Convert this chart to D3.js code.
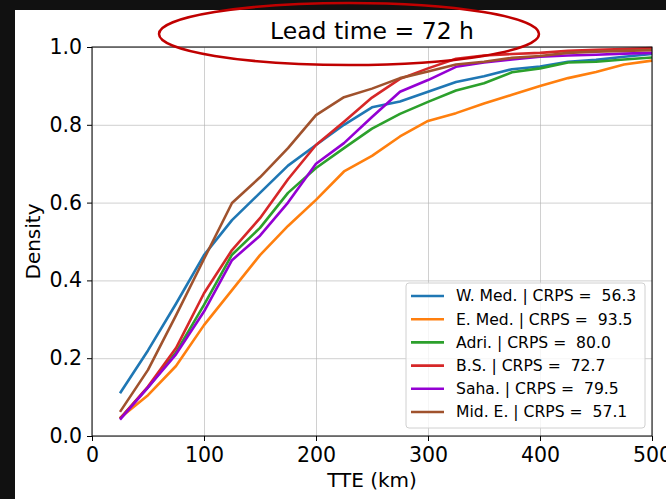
<!DOCTYPE html>
<html>
<head>
<meta charset="utf-8">
<script src="https://cdn.jsdelivr.net/npm/d3@7"></script>
<style>
  html, body { margin: 0; padding: 0; background: #111111; }
  svg { display: block; font-family: "DejaVu Sans", sans-serif; }
  .grid line { stroke: #b0b0b0; stroke-opacity: 0.6; stroke-width: 1; }
  .grid path { display: none; }
  .axis path, .axis line { stroke: #000; stroke-width: 1; }
  .axis text { font-family: "DejaVu Sans", sans-serif; font-size: 20.5px; fill: #000; }
</style>
</head>
<body>
<svg id="chart"></svg>
<script>
var w = 666, h = 499;

var margin = { top: 47, right: 14, bottom: 63, left: 92 },
    width = w - margin.left - margin.right,
    height = h - margin.top - margin.bottom;

// TTE bins (km)
var tte = [25, 50, 75, 100, 125, 150, 175, 200, 225, 250, 275, 300, 325, 350, 375, 400, 425, 450, 475, 500];

var regions = ["W. Med.", "E. Med.", "Adri.", "B.S.", "Saha.", "Mid. E."];
var crps = ["56.3", "93.5", "80.0", "72.7", "79.5", "57.1"];
var colors = ["#1f77b4", "#ff7f0e", "#2ca02c", "#d62728", "#9400d3", "#a0522d"];

var wMed  = [0.11, 0.22, 0.34, 0.465, 0.555, 0.625, 0.695, 0.748, 0.80, 0.845, 0.86, 0.885, 0.91, 0.925, 0.943, 0.95, 0.962, 0.967, 0.975, 0.982];
var eMed  = [0.046, 0.105, 0.18, 0.285, 0.375, 0.465, 0.54, 0.607, 0.68, 0.72, 0.77, 0.81, 0.83, 0.855, 0.877, 0.90, 0.92, 0.936, 0.955, 0.965];
var adri  = [0.045, 0.125, 0.215, 0.337, 0.466, 0.535, 0.625, 0.689, 0.74, 0.79, 0.828, 0.859, 0.888, 0.907, 0.935, 0.945, 0.96, 0.962, 0.968, 0.973];
var bs    = [0.045, 0.127, 0.226, 0.367, 0.478, 0.56, 0.66, 0.748, 0.808, 0.87, 0.918, 0.945, 0.97, 0.978, 0.982, 0.985, 0.99, 0.993, 0.995, 0.997];
var saha  = [0.042, 0.125, 0.21, 0.32, 0.452, 0.515, 0.60, 0.70, 0.753, 0.82, 0.885, 0.915, 0.949, 0.96, 0.968, 0.975, 0.978, 0.98, 0.983, 0.985];
var midE  = [0.062, 0.17, 0.31, 0.455, 0.599, 0.665, 0.74, 0.825, 0.871, 0.893, 0.92, 0.937, 0.955, 0.962, 0.972, 0.977, 0.985, 0.988, 0.99, 0.992];

var series = [wMed, eMed, adri, bs, saha, midE];

var x = d3.scaleLinear().domain([0, 500]).range([0, width]);
var y = d3.scaleLinear().domain([0, 1]).range([height, 0]);

var svg = d3.select("#chart").attr("width", w).attr("height", h);

// white figure area (dark border top/left like the screenshot)
svg.append("rect")
    .attr("x", 15).attr("y", 10)
    .attr("width", w - 15).attr("height", h - 10)
    .attr("fill", "#fff");

var g = svg.append("g")
    .attr("transform", "translate(" + margin.left + "," + margin.top + ")");

// grid
g.append("g")
    .attr("class", "grid")
    .attr("transform", "translate(0," + height + ")")
    .call(d3.axisBottom(x).tickValues(d3.range(0, 501, 100)).tickSize(-height).tickFormat(""));
g.append("g")
    .attr("class", "grid")
    .call(d3.axisLeft(y).tickValues(d3.range(0, 1.01, 0.2)).tickSize(-width).tickFormat(""));

// lines
var line = d3.line()
    .x(function(d, i) { return x(tte[i]); })
    .y(function(d) { return y(d); });

g.selectAll(".series")
    .data(series)
    .enter()
    .append("path")
    .attr("class", "series")
    .attr("fill", "none")
    .attr("stroke", function(d, i) { return colors[i]; })
    .attr("stroke-width", 2.6)
    .attr("stroke-linejoin", "round")
    .attr("d", line);

// frame
g.append("rect")
    .attr("width", width).attr("height", height)
    .attr("fill", "none").attr("stroke", "#000").attr("stroke-width", 1);

// axes
g.append("g")
    .attr("class", "axis")
    .attr("transform", "translate(0," + height + ")")
    .call(d3.axisBottom(x).tickValues(d3.range(0, 501, 100)).tickSize(5).tickPadding(6).tickFormat(d3.format("d")))
    .call(function(s) { s.select(".domain").remove(); });

g.append("g")
    .attr("class", "axis")
    .call(d3.axisLeft(y).tickValues(d3.range(0, 1.01, 0.2)).tickSize(5).tickPadding(5).tickFormat(d3.format(".1f")))
    .call(function(s) { s.select(".domain").remove(); });

// axis labels
svg.append("text")
    .attr("x", margin.left + width / 2)
    .attr("y", 487)
    .attr("text-anchor", "middle")
    .style("font-size", "20px")
    .text("TTE (km)");

svg.append("text")
    .attr("transform", "translate(40," + (margin.top + height / 2) + ") rotate(-90)")
    .attr("text-anchor", "middle")
    .style("font-size", "20px")
    .text("Density");

// title
svg.append("text")
    .attr("x", margin.left + width / 2)
    .attr("y", 39)
    .attr("text-anchor", "middle")
    .style("font-size", "23.5px")
    .text("Lead time = 72 h");

// legend
var legend = g.append("g")
    .attr("transform", "translate(" + (406 - margin.left) + "," + (283 - margin.top) + ")");

legend.append("rect")
    .attr("width", 239).attr("height", 145)
    .attr("rx", 3)
    .attr("fill", "#fff").attr("fill-opacity", 0.8)
    .attr("stroke", "#d0d0d0");

var item = legend.selectAll(".item")
    .data(regions)
    .enter()
    .append("g")
    .attr("class", "item")
    .attr("transform", function(d, i) { return "translate(0," + (13 + i * 23.2) + ")"; });

item.append("line")
    .attr("x1", 5).attr("x2", 38)
    .attr("stroke", function(d, i) { return colors[i]; })
    .attr("stroke-width", 2.6);

item.append("text")
    .attr("x", 50)
    .attr("dy", "0.35em")
    .style("font-size", "15.6px")
    .style("white-space", "pre")
    .attr("xml:space", "preserve")
    .text(function(d, i) { return d + " | CRPS =  " + crps[i]; });

// red highlight ellipse around title
svg.append("ellipse")
    .attr("cx", 349).attr("cy", 34)
    .attr("rx", 190).attr("ry", 31)
    .attr("fill", "none")
    .attr("stroke", "#c00000")
    .attr("stroke-width", 2.5);
</script>
</body>
</html>
